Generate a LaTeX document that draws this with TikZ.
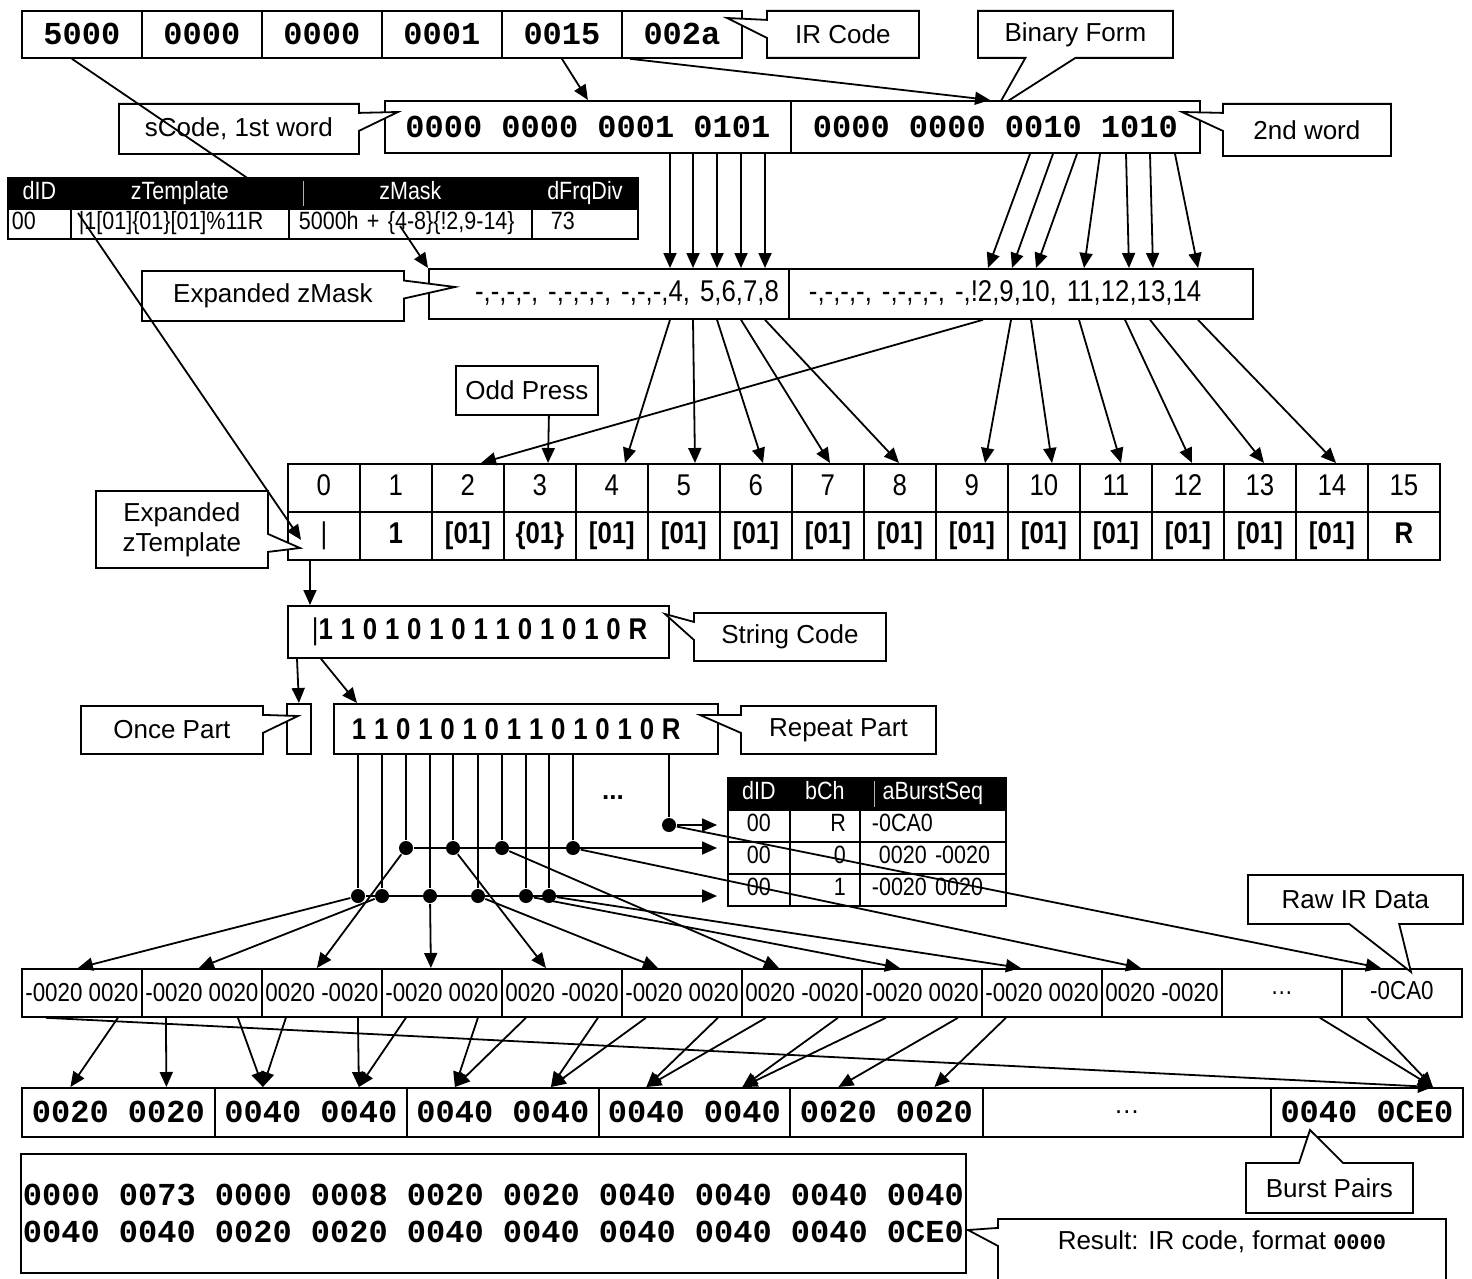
\documentclass[tikz,border=0pt]{standalone}
\usepackage{fontspec}
\setmainfont{Liberation Sans}
\setmonofont{Liberation Mono}
\newfontfamily\narrowsf{Liberation Sans}[FakeStretch=0.86]
\usetikzlibrary{arrows.meta,shapes.callouts}

\begin{document}
\begin{tikzpicture}[
  x=1pt, y=-1pt,
  line width=1.8pt,
  box/.style={draw, rectangle, anchor=north west, inner sep=0pt, fill=white, line width=1.8pt},
  monotxt/.style={font=\ttfamily\bfseries\fontsize{32}{36}\selectfont},
  cellfont/.style={font=\narrowsf\fontsize{30}{32}\selectfont, text height=21pt, text depth=6pt},
  boldcell/.style={font=\narrowsf\bfseries\fontsize{30}{32}\selectfont, text height=21pt, text depth=6pt},
  bitfont/.style={font=\narrowsf\bfseries\fontsize{30}{34}\selectfont},
  tabfont/.style={font=\narrowsf\fontsize{25}{28}\selectfont, text height=17pt, text depth=5pt},
  rawfont/.style={font=\narrowsf\fontsize{26}{30}\selectfont},
  note/.style={draw, fill=white, rectangle callout, anchor=north west, line width=1.8pt,
    font=\fontsize{26}{30}\selectfont, inner sep=0pt, callout pointer width=18pt, align=center},
  arr/.style={-{Triangle[length=15pt,width=13pt]}, line width=1.8pt},
  bitdot/.style={circle, fill, inner sep=0pt, minimum size=14pt}
]
\useasboundingbox (0,0) rectangle (1472,1279);

% IR code and its binary form
\foreach \txt [count=\i] in {5000,0000,0000,0001,0015,002a}
  \node[box, monotxt, minimum width=120pt, minimum height=47pt] (ir\i) at ({21+120*(\i-1)},10) {\txt};
\node[note, minimum width=152pt, minimum height=47pt, callout absolute pointer={(727,18)}] (irnote) at (766,10) {IR Code};
\node[note, minimum width=195pt, minimum height=47pt, callout pointer width=50pt, callout absolute pointer={(997,108)}] (binnote) at (977,10) {Binary Form};

\node[box, monotxt, minimum width=406pt, minimum height=52pt] (w1) at (384,100) {0000 0000 0001 0101};
\node[box, monotxt, minimum width=409pt, minimum height=52pt] (w2) at (790,100) {0000 0000 0010 1010};
\node[note, minimum width=240pt, minimum height=50pt, callout absolute pointer={(398,112)}] (s1note) at (118,103) {sCode, 1st word};
\node[note, minimum width=168pt, minimum height=52pt, callout absolute pointer={(1182,112)}] (s2note) at (1222,103) {2nd word};

% device table
\foreach \xa/\w/\h [count=\i] in {7/63/dID, 70/218/zTemplate, 288/243/zMask, 531/106/dFrqDiv}
  \node[box, tabfont, fill=black, text=white, minimum width=\w pt, minimum height=31pt] (fh\i) at (\xa,177) {\h};
\node[box, tabfont, minimum height=30pt, inner xsep=4pt, text width=55pt, align=left] (fd1) at (7,208) {00};
\node[box, tabfont, minimum height=30pt, inner xsep=8pt, text width=202pt, align=left] (fd2) at (70,208) {|1[01]\{01\}[01]\%11R};
\node[box, tabfont, minimum height=30pt, inner xsep=10pt, text width=223pt, align=left] (fd3) at (288,208) {5000h + \{4-8\}\{!2,9-14\}};
\node[box, tabfont, minimum height=30pt, inner xsep=19pt, text width=68pt, align=left] (fd4) at (531,208) {73};
\draw[gray!60, line width=1pt] ([xshift=14pt,yshift=-4pt]fh2.north east) -- ([xshift=14pt,yshift=4pt]fh2.south east);

% expanded mask
\node[box, cellfont, minimum width=360pt, minimum height=50pt, inner xsep=10pt, text width=340pt, align=right] (em1) at (428,268) {-,-,-,-, -,-,-,-, -,-,-,4, 5,6,7,8};
\node[box, cellfont, minimum width=464pt, minimum height=50pt, inner xsep=20pt, text width=424pt, align=left] (em2) at (788,268) {-,-,-,-, -,-,-,-, -,!2,9,10, 11,12,13,14};
\node[note, minimum width=262pt, minimum height=50pt, callout absolute pointer={(455,287)}] (emnote) at (141,270) {Expanded zMask};
\node[box, font=\fontsize{26}{30}\selectfont, minimum width=142pt, minimum height=49pt] (odd) at (455,365) {Odd Press};

% expanded template
\foreach \i in {0,...,15}
  \node[box, cellfont, minimum width=72pt, minimum height=48pt] (n\i) at ({287+72*\i},463) {\i};
\foreach \txt [count=\i from 0] in {{\mdseries|},1,[01],\{01\},[01],[01],[01],[01],[01],[01],[01],[01],[01],[01],[01],R}
  \node[box, boldcell, minimum width=72pt, minimum height=48pt] (v\i) at ({287+72*\i},511) {\txt};
\node[note, minimum width=172pt, minimum height=77pt, callout absolute pointer={(300,548)}] (etnote) at (95,490) {Expanded\\zTemplate};

% string code, once and repeat parts
\node[box, bitfont, minimum width=381pt, minimum height=52pt, inner xsep=24pt, text width=333pt, align=left] (sc) at (287,605) {\mbox{\spaceskip=7.8pt\relax{\mdseries|}1 1 0 1 0 1 0 1 1 0 1 0 1 0 R}};
\node[note, minimum width=192pt, minimum height=48pt, callout absolute pointer={(665,614)}] (scnote) at (693,612) {String Code};
\node[box, minimum width=24pt, minimum height=50pt] (once) at (286,703) {};
\node[box, bitfont, minimum width=384pt, minimum height=50pt, inner xsep=18pt, text width=348pt, align=left] (rep) at (333,703) {\mbox{\spaceskip=7.8pt\relax 1 1 0 1 0 1 0 1 1 0 1 0 1 0 R}};
\node[note, minimum width=182pt, minimum height=48pt, callout absolute pointer={(298,716)}] (oncenote) at (80,705) {Once Part};
\node[note, minimum width=195pt, minimum height=48pt, callout absolute pointer={(700,715)}] (repnote) at (740,705) {Repeat Part};

\foreach \n/\x/\y in {a1/406/848, a2/453/848, a3/502/848, a4/573/848, b1/358/896, b2/382/896, b3/430/896, b4/478/896, b5/526/896, b6/549/896, rdot/669/825}
  \node[bitdot] (\n) at (\x,\y) {};
\node[font=\bfseries\fontsize{26}{30}\selectfont] (more) at (613,798) {...};

% burst table
\foreach \xa/\w/\h [count=\i] in {727/62/dID, 789/70/bCh, 859/146/aBurstSeq}
  \node[box, tabfont, fill=black, text=white, minimum width=\w pt, minimum height=32pt] (bh\i) at (\xa,777) {\h};
\foreach \y/\c/\s [count=\i] in {809/R/-0CA0, 841/0/{\hspace*{7pt}0020 -0020}, 873/1/-0020 0020} {
  \node[box, tabfont, minimum width=62pt, minimum height=32pt] (bid\i) at (727,\y) {00};
  \node[box, tabfont, minimum height=32pt, inner xsep=14pt, text width=42pt, align=right] (bch\i) at (789,\y) {\c};
  \node[box, tabfont, minimum height=32pt, inner xsep=12pt, text width=122pt, align=left] (bseq\i) at (859,\y) {\s};
}
\draw[gray!60, line width=1pt] ([xshift=14pt,yshift=-4pt]bh2.north east) -- ([xshift=14pt,yshift=4pt]bh2.south east);

% raw data and burst pairs
\foreach \txt [count=\i] in {-0020 0020,-0020 0020,0020 -0020,-0020 0020,0020 -0020,-0020 0020,0020 -0020,-0020 0020,-0020 0020,0020 -0020,\ldots,\raisebox{5pt}{-0CA0}}
  \node[box, rawfont, minimum width=120pt, minimum height=48pt] (r\i) at ({21+120*(\i-1)},968) {\txt};
\node[note, minimum width=215pt, minimum height=49pt, callout pointer width=50pt, callout absolute pointer={(1411,972)}] (rawnote) at (1247,874) {Raw IR Data};

\foreach \xa/\w/\txt [count=\i] in {21/193/0020 0020, 214/192/0040 0040, 406/192/0040 0040, 598/191/0040 0040, 789/193/0020 0020, 982/288/{\normalfont\fontsize{26}{30}\selectfont\ldots}, 1270/192/0040 0CE0}
  \node[box, monotxt, minimum width=\w pt, minimum height=49pt] (p\i) at (\xa,1087) {\txt};
\node[note, minimum width=167pt, minimum height=50pt, callout pointer width=44pt, callout absolute pointer={(1310,1130)}] (bpnote) at (1245,1162) {Burst Pairs};

\node[box, font=\ttfamily\bfseries\fontsize{32}{37}\selectfont, inner xsep=2pt, inner ysep=30pt, minimum width=945pt, align=left] (res) at (20,1153) {0000 0073 0000 0008 0020 0020 0040 0040 0040 0040\\0040 0040 0020 0020 0040 0040 0040 0040 0040 0CE0};
\node[note, minimum width=448pt, inner ysep=12pt, text depth=60pt, callout absolute pointer={(968,1230)}] (resnote) at (997,1218) {Result: IR code, format {\ttfamily\bfseries\fontsize{22}{26}\selectfont 0000}};

% connectors
\draw[arr] (ir5.south) -- (w1.north);
\draw[arr] ([xshift=9pt]ir6.south west) -- ([xshift=200pt]w2.north west);
\draw[arr] ([xshift=-10pt]ir1.south) -- ([xshift=5pt,yshift=-1pt]fd3.north west);
\draw[arr] ([xshift=8pt,yshift=-5pt]fd2.north west) -- ([xshift=14pt,yshift=-4pt]v0.west);
\draw[arr] ([xshift=112pt,yshift=-18pt]fd3.north west) -- (em1.north west);

\foreach \a/\b in {286/242, 309/265, 333/289, 357/313, 381/337}
  \draw[arr] ([xshift=\a pt]w1.south west) -- ([xshift=\b pt]em1.north west);
\foreach \a/\b in {240/200, 263/224, 287/248, 310/296, 336/341, 360/365, 385/410}
  \draw[arr] ([xshift=\a pt]w2.south west) -- ([xshift=\b pt]em2.north west);

\foreach \a/\dst/\b in {242/4/50, 265/5/48, 289/6/44, 313/7/39, 337/8/36}
  \draw[arr] ([xshift=\a pt]em1.south west) -- ([xshift=\b pt]n\dst.north west);
\foreach \a/\dst/\b in {195/2/50, 223/9/50, 243/10/45, 291/11/42, 337/12/41, 362/13/41, 410/14/41}
  \draw[arr] ([xshift=\a pt]em2.south west) -- ([xshift=\b pt]n\dst.north west);
\draw[arr] ([xshift=22pt]odd.south) -- ([xshift=45pt]n3.north west);

\draw[arr] ([xshift=23pt]v0.south west) -- ([xshift=23pt]sc.north west);
\draw[arr] ([xshift=10pt]sc.south west) -- (once.north);
\draw[arr] ([xshift=34pt]sc.south west) -- ([xshift=24pt]rep.north west);

\foreach \d in {a1,a2,a3,a4,b1,b2,b3,b4,b5,b6,rdot}
  \draw (rep.south -| \d) -- (\d);
\draw[arr, shorten >=10pt] (rdot) -- (bid1.west |- rdot);
\draw[arr, shorten >=10pt] (a1) -- (bid2.west |- a1);
\draw[arr, shorten >=10pt] (b1) -- (bid3.west |- b1);

\foreach \src/\dst/\off in {b1/r1/-4, b2/r2/-3, a1/r3/-5, b3/r4/-11, a2/r5/-16, b4/r6/-24, a3/r7/-23, b5/r8/-22, b6/r9/-21, a4/r10/-21, rdot/r12/-21}
  \draw[arr] (\src) -- ([xshift=\off pt]\dst.north);

\foreach \s/\a/\t/\b in {1/1/1/-1, 2/-1/1/1, 2/1/2/-1, 3/-1/2/-1, 3/1/2/1, 4/-1/2/1, 4/1/3/-1, 5/-1/3/-1, 5/1/3/1, 6/-1/3/1, 6/1/4/-1, 7/-1/4/-1, 7/1/4/1, 8/-1/4/1, 8/1/5/-1, 9/-1/5/1}
  \draw[arr] ([xshift=\a*36pt]r\s.south) -- ([xshift=\b*48pt]p\t.north);
\draw[arr] ([xshift=-36pt]r1.south) -- ([xshift=66pt]p7.north);
\draw[arr] ([xshift=38pt]r11.south) -- ([xshift=66pt]p7.north);
\draw[arr] ([xshift=-35pt]r12.south) -- ([xshift=66pt]p7.north);
\end{tikzpicture}
\end{document}
